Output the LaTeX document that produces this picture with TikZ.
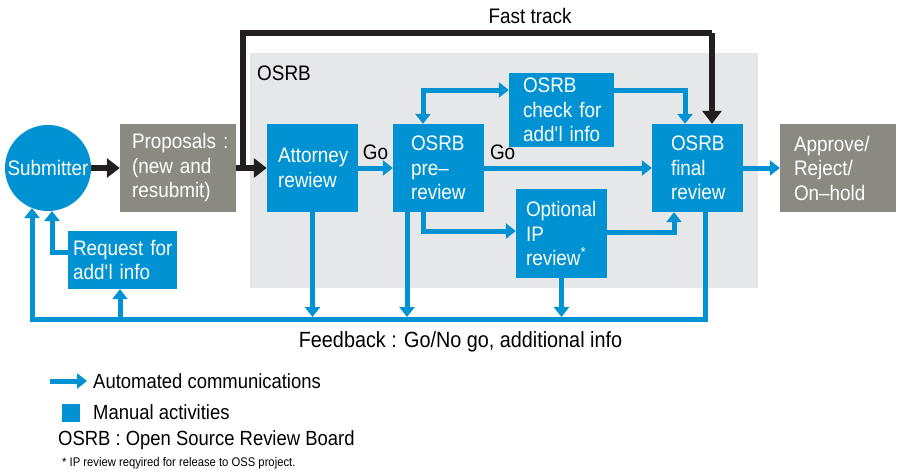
\documentclass[tikz,border=0pt]{standalone}
\usepackage{fontspec}
\setmainfont[FakeStretch=0.9]{Liberation Sans}
\usetikzlibrary{arrows.meta}
\definecolor{flowblue}{HTML}{0092D2}
\definecolor{stonegrey}{HTML}{8B8A82}
\definecolor{boardgrey}{HTML}{E6E7E9}
\definecolor{inkblack}{HTML}{231F20}
\hyphenpenalty=10000
\exhyphenpenalty=10000
\begin{document}
\begin{tikzpicture}[x=1pt,y=-1pt,
  every node/.style={font=\fontsize{21}{24.5}\selectfont, inner ysep=0pt},
  act/.style={fill=flowblue, text=white, align=left, minimum height=88pt},
  ext/.style={fill=stonegrey, text=white, align=left, minimum height=88pt},
  bline/.style={draw=flowblue, line width=5pt},
  barrow/.style={bline, -{Triangle[width=15pt,length=10pt]}},
  bboth/.style={bline, {Triangle[width=15pt,length=10pt]}-{Triangle[width=15pt,length=10pt]}},
  kline/.style={draw=inkblack, line width=6pt},
  karrow/.style={kline, -{Triangle[width=19pt,length=13pt]}},
  golabel/.style={text=black, inner sep=0pt, anchor=south, yshift=6pt},
  legend/.style={font=\fontsize{20.5}{24}\selectfont, anchor=west, inner sep=0pt}
]
\useasboundingbox (0,0) rectangle (898,472);

% review board area
\fill[boardgrey] (250,53) rectangle (758,288);
\node[anchor=west, inner sep=0pt] (board) at (257,73) {OSRB};

% participants and activities
\node[circle, fill=flowblue, text=white, minimum size=86pt, inner sep=0pt] (sub) at (48,168) {Submitter};
\node[ext, text width=92pt, inner xsep=12pt] (prop) at (178,168) {Proposals~:\\(new and\\resubmit)};
\node[act, text width=69pt, inner xsep=11pt] (att) at (312.5,168) {Attorney\\rewiew};
\node[act, text width=55pt, inner xsep=18pt] (pre) at (438.5,168) {OSRB\\pre–\\review};
\node[act, text width=77pt, inner xsep=14pt, minimum height=74pt] (chk) at (561.5,110) {OSRB\\check~for\\add\textquotesingle l~info};
\node[act, text width=71pt, inner xsep=10pt, minimum height=89pt] (ip) at (561.5,233.5) {Optional\\IP\\review\textsuperscript{*}};
\node[act, text width=53pt, inner xsep=19pt] (fin) at (697.5,168) {OSRB\\final\\review};
\node[ext, text width=88pt, inner xsep=14pt] (app) at (838,168) {Approve/\\Reject/\\On–hold};
\node[act, text width=99pt, inner xsep=5pt, minimum height=58pt] (req) at (122.5,260) {Request~for\\add\textquotesingle l~info};

% routing points
\coordinate (ftA) at (243,33);
\coordinate (ftB) at (712,33);
\coordinate (chkL) at (423,90);
\coordinate (chkR) at (685,90);
\coordinate (ipL) at (423,231);
\coordinate (ipR) at (674,232);
\coordinate (fbR) at (705,319);
\coordinate (fbL) at (32,319);
\coordinate (reqL) at (52,252);
\coordinate (reqB) at (120,319);
\coordinate (preB) at (407,317);
\coordinate (fbTop) at (0,317);

% submission and fast track
\draw[karrow] (sub.east) -- (prop.west);
\draw[karrow] (prop.east) -- (att.west);
\draw[kline] (ftA |- att.west) -- (ftA) -- (ftB);
\draw[karrow] (ftB) -- (ftB |- fin.north);
\node[inner sep=0pt] (fast) at (530,16) {Fast track};

% review flow
\draw[barrow] (att.east) -- node[golabel] (go1) {Go} (pre.west);
\draw[barrow] (pre.east) -- node[golabel, pos=0.11] (go2) {Go} (fin.west);
\draw[barrow] (fin.east) -- (app.west);
\draw[bboth] (chkL |- pre.north) -- (chkL) -- (chk.west |- chkL);
\draw[barrow] (chk.east |- chkR) -- (chkR) -- (chkR |- fin.north);
\draw[barrow] (ipL |- pre.south) -- (ipL) -- (ip.west |- ipL);
\draw[barrow] (ip.east |- ipR) -- (ipR) -- (ipR |- fin.south);

% feedback loop
\draw[barrow] (fbR |- fin.south) -- (fbR) -- (fbL) -- (fbL |- sub.248);
\draw[barrow] (att.south) -- (att.south |- fbTop);
\draw[barrow] (preB |- pre.south) -- (preB);
\draw[barrow] (ip.south) -- (ip.south |- fbTop);
\draw[barrow] (reqB) -- (reqB |- req.south);
\draw[barrow] (req.west |- reqL) -- (reqL) -- (reqL |- sub.275);
\node[font=\fontsize{22}{26}\selectfont, inner sep=0pt] (fb) at (460.5,342) {Feedback : Go/No go, additional info};

% legend
\coordinate (lgA) at (50,381);
\coordinate (lgB) at (87,381);
\draw[barrow] (lgA) -- (lgB);
\node[legend] (lg1) at (93,381) {Automated communications};
\node[fill=flowblue, minimum size=18pt, inner sep=0pt] (lgbox) at (71,413) {};
\node[legend] (lg2) at (93,412) {Manual activities};
\node[legend] (lg3) at (58,440) {OSRB : Open Source Review Board};
\node[legend, font=\fontsize{12.5}{15}\selectfont] (lg4) at (62,463) {* IP review reqyired for release to OSS project.};
\end{tikzpicture}
\end{document}
